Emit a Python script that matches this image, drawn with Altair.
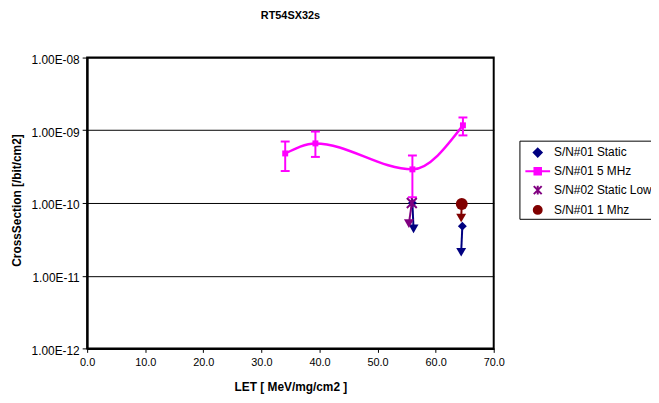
import altair as alt
import pandas as pd

# ---- data ----
series_names = ["S/N#01 Static", "S/N#01 5 MHz", "S/N#02 Static Low", "S/N#01 1 Mhz"]
series_colors = ["#000080", "#FF00FF", "#800080", "#800000"]
legend_shapes = [
    "M0,-0.4L0.4,0L0,0.4L-0.4,0Z",
    "M-1.25,0L1.25,0M-0.33,-0.33L0.33,-0.33L0.33,0.33L-0.33,0.33Z",
    "M-0.4,-0.4L0.4,0.4M-0.4,0.4L0.4,-0.4M0,-0.45L0,0.45",
    "M-0.4,0A0.4,0.4,0,1,0,0.4,0A0.4,0.4,0,1,0,-0.4,0Z",
]

mhz5_let = [34.1, 39.3, 56.0, 64.7]
mhz5_cs = [4.8e-10, 6.6e-10, 2.9e-10, 1.17e-9]
mhz5_lo = [2.75e-10, 4.3e-10, 1.2e-10, 8.5e-10]
mhz5_hi = [7.0e-10, 9.6e-10, 4.5e-10, 1.5e-9]

static_let = [56.0, 64.6]
static_cs = [1.0e-10, 4.8e-11]
static_lim_let = [56.2, 64.4]
static_lim_cs = [4.4e-11, 2.1e-11]

low_let = [55.9]
low_cs = [1.0e-10]
low_lim_let = [55.4]
low_lim_cs = [5.2e-11]

mhz1_let = [64.5]
mhz1_cs = [9.7e-11]
mhz1_lim_let = [64.4]
mhz1_lim_cs = [6.2e-11]

x_ticks = [0, 10, 20, 30, 40, 50, 60, 70]
y_ticks = [1e-12, 1e-11, 1e-10, 1e-9, 1e-8]

# ---- tables ----
df5 = pd.DataFrame({"let": mhz5_let, "cs": mhz5_cs, "lo": mhz5_lo, "hi": mhz5_hi})

arrows = pd.DataFrame({
    "let": static_let + low_let + mhz1_let,
    "cs": static_cs + low_cs + mhz1_cs,
    "let2": static_lim_let + low_lim_let + mhz1_lim_let,
    "cs2": static_lim_cs + low_lim_cs + mhz1_lim_cs,
    "col": [series_colors[0]] * len(static_let) + [series_colors[2]] * len(low_let)
           + [series_colors[3]] * len(mhz1_let),
})
df_static = pd.DataFrame({"let": static_let, "cs": static_cs})
df_low = pd.DataFrame({"let": low_let, "cs": low_cs})
df_1 = pd.DataFrame({"let": mhz1_let, "cs": mhz1_cs})
df_leg = pd.DataFrame({"series": series_names})

FONT = "Liberation Sans"

xs = alt.Scale(domain=[0, 70], nice=False, zero=False, padding=0)
ys = alt.Scale(type="log", domain=[1e-12, 1e-8], nice=False, padding=0)

xaxis = alt.Axis(
    values=x_ticks, format=".1f", grid=False, title="LET [ MeV/mg/cm2 ]",
    titleFont=FONT, titleFontSize=12, titleFontWeight="bold", titleColor="black",
    titleX=205.5, titleY=43, titleBaseline="alphabetic",
    labelFont=FONT, labelFontSize=11, labelColor="black", labelPadding=4, labelFlush=False,
    tickSize=4, tickColor="black", tickWidth=1,
    domainColor="black", domainWidth=2,
)
yaxis = alt.Axis(
    values=y_ticks,
    labelExpr="'1.00E-' + (abs(round(log(datum.value)/LN10)) < 10 ? '0' : '') + abs(round(log(datum.value)/LN10))",
    grid=True, gridColor="black", gridWidth=1, gridOpacity=1,
    title="CrossSection [/bit/cm2]",
    titleFont=FONT, titleFontSize=12, titleFontWeight="bold", titleColor="black",
    titleX=-67.5, titleY=144, titleBaseline="alphabetic", titleAngle=270,
    labelFont=FONT, labelFontSize=12, labelColor="black", labelPadding=3, labelFlush=False,
    labelOffset=2,
    tickSize=5, tickColor="black", tickWidth=1,
    domainColor="black", domainWidth=2,
)

def X(f="let"):
    return alt.X(f, type="quantitative", scale=xs, axis=xaxis)

def Y(f="cs"):
    return alt.Y(f, type="quantitative", scale=ys, axis=yaxis)

arrow_rules = alt.Chart(arrows).mark_rule(strokeWidth=2).encode(
    x=X(), y=Y(), x2="let2", y2="cs2", color=alt.Color("col:N", scale=None)
)
arrow_heads = alt.Chart(arrows).mark_point(shape="triangle-down", filled=True, size=100, opacity=1).encode(
    x=X("let2"), y=Y("cs2"), color=alt.Color("col:N", scale=None)
)
static_pts = alt.Chart(df_static).mark_point(shape="diamond", filled=True, size=81, opacity=1,
                                             color=series_colors[0]).encode(x=X(), y=Y())

err = alt.Chart(df5).mark_rule(strokeWidth=2, color=series_colors[1]).encode(x=X(), y=Y("lo"), y2="hi")
cap_lo = alt.Chart(df5).mark_tick(orient="horizontal", size=9, thickness=2, color=series_colors[1], opacity=1).encode(x=X(), y=Y("lo"))
cap_hi = alt.Chart(df5).mark_tick(orient="horizontal", size=9, thickness=2, color=series_colors[1], opacity=1).encode(x=X(), y=Y("hi"))
line5 = alt.Chart(df5).mark_line(interpolate="monotone", strokeWidth=2.5, color=series_colors[1]).encode(x=X(), y=Y())
sq5 = alt.Chart(df5).mark_point(shape="square", filled=True, size=36, opacity=1, color=series_colors[1]).encode(x=X(), y=Y())

low_pts = alt.Chart(df_low).mark_point(shape="M-1,-1L1,1M-1,1L1,-1M0,-1L0,1", filled=False, size=100,
                                       strokeWidth=2, opacity=1, color=series_colors[2]).encode(x=X(), y=Y())
mhz1_pts = alt.Chart(df_1).mark_point(shape="circle", filled=True, size=144, opacity=1,
                                      color=series_colors[3]).encode(x=X(), y=Y())

leg = alt.Legend(
    orient="none", legendX=437, legendY=84, title=None, padding=1,
    symbolOffset=6.5, labelOffset=5.5, symbolSize=400, symbolStrokeWidth=2,
    rowPadding=0, labelFont=FONT, labelFontSize=12, labelColor="black", labelLimit=400,
    strokeColor="black", fillColor="white", symbolOpacity=1,
)
cscale = alt.Scale(domain=series_names, range=series_colors)
legend_layer = alt.Chart(df_leg).transform_filter("false").mark_point(filled=True).encode(
    fill=alt.Fill("series:N", scale=cscale, legend=leg),
    stroke=alt.Stroke("series:N", scale=cscale, legend=leg),
    shape=alt.Shape("series:N", scale=alt.Scale(domain=series_names, range=legend_shapes), legend=leg),
)

chart = alt.layer(
    arrow_rules, arrow_heads, static_pts,
    line5, err, cap_lo, cap_hi, sq5,
    low_pts, mhz1_pts, legend_layer,
).properties(
    width=411, height=294,
    padding={"left": 80, "top": 48, "right": 159, "bottom": 45},
    autosize=alt.AutoSizeParams(type="none"),
    title=alt.TitleParams("RT54SX32s", font=FONT, fontSize=11, fontWeight="bold", color="black",
                          anchor="middle", frame="group", baseline="alphabetic", offset=24),
).configure(font=FONT).configure_view(stroke="black", strokeWidth=2)

chart.save("out.html", embed_options={"renderer": "svg", "actions": False})
